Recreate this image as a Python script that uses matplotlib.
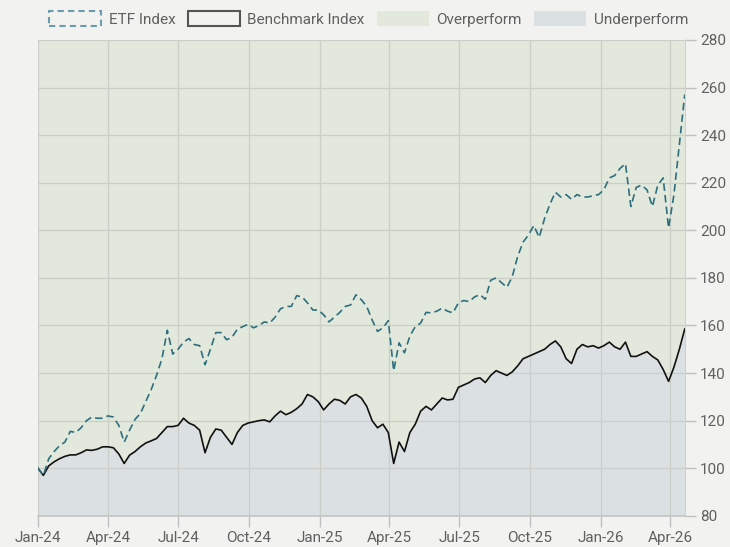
import matplotlib

matplotlib.use("Agg")

import matplotlib.dates as mdates
import matplotlib.pyplot as plt
import pandas as pd
from matplotlib.patches import Patch


# weekly closes (Mondays), Jan-2024 to Apr-2026
dates = pd.date_range("2024-01-01", "2026-04-20", freq="W-MON")

etf = [
    100, 97, 104, 107, 109.5,
    111, 115.5, 115, 117,
    120, 121.5, 121, 121,
    122, 121.5, 118, 111, 116,
    120.5, 123, 128, 133,
    139, 146, 158, 148,
    150, 153, 154.5, 152, 151.5,
    143.5, 150, 157, 157,
    154, 155, 158.5, 159.5, 160.5,
    159, 160, 161.5, 161,
    163.5, 167, 168, 168,
    172.5, 172, 169.5, 166.5, 166.5,
    164.5, 161.5, 163.5, 165.5,
    168, 168.6, 172.9, 170.8,
    168, 162.3, 157.5, 159, 162,
    141, 152.7, 148.5, 155.5,
    159.5, 161, 165.5, 165.3,
    166, 167.3, 166, 165.3, 169.5,
    170.5, 170, 172, 173,
    171, 179, 180, 178,
    176, 180.5, 189, 195, 198,
    202, 197, 205, 211,
    216, 214, 215, 213,
    215, 214, 214, 214.5, 215,
    217, 222, 223, 226,
    228, 210, 218, 219,
    217, 210, 219, 222, 201,
    215, 236, 257,
]

benchmark = [
    100, 97, 101, 102.7, 104,
    105, 105.6, 105.6, 106.5,
    107.7, 107.5, 108, 109,
    109, 108.6, 106, 102, 105.5,
    107, 109, 110.6, 111.5,
    112.5, 115, 117.5, 117.5,
    118, 121, 119, 118, 116,
    106.5, 113, 116.5, 116,
    113, 110, 115, 118, 119,
    119.5, 120, 120.3, 119.5,
    122, 124, 122.5, 123.5,
    125, 127, 131, 130, 128,
    124.5, 127, 129, 128.5,
    127, 130, 131, 129.5,
    126, 120, 117, 118.5, 115,
    102, 111, 107, 115,
    118.5, 124, 126, 124.5,
    127, 129.5, 128.7, 129, 134,
    135, 136, 137.5, 138,
    136, 139, 141, 140,
    139, 140.5, 143, 146, 147,
    148, 149, 150, 152,
    153.5, 151, 146, 144,
    150, 152, 151, 151.5, 150.5,
    151.5, 153, 151, 150,
    153, 147, 147, 148,
    149, 147, 145.5, 141.5, 136.5,
    142.5, 150, 158.5,
]

y_ticks = list(range(80, 281, 20))
legend_labels = ["ETF Index", "Benchmark Index", "Overperform", "Underperform"]

BG = "#f2f2f0"
OVER = "#e2e8dc"
UNDER = "#dbe1e3"
ETF_COLOR = "#2e6f7e"
GRID = "#cbcfc7"
TEXT = "#606060"

plt.rcParams["font.family"] = ["Roboto", "DejaVu Sans"]

fig = plt.figure(figsize=(7.3, 5.47), dpi=100, facecolor=BG)
ax = fig.add_axes([0.052, 0.057, 0.886, 0.870])
ax.set_facecolor(OVER)

ax.fill_between(dates, 80, benchmark, color=UNDER, linewidth=0, zorder=1)
ax.plot(dates, benchmark, color="#111111", linewidth=1.2, zorder=3)
ax.plot(dates, etf, color=ETF_COLOR, linewidth=1.2, dashes=(4.5, 2.5), zorder=3)

ax.set_xlim(dates[0], dates[-1])
ax.set_ylim(80, 280)
ax.set_yticks(y_ticks)
ax.yaxis.tick_right()

ax.xaxis.set_major_locator(mdates.MonthLocator(bymonth=[1, 4, 7, 10]))
ax.xaxis.set_major_formatter(mdates.DateFormatter("%b-%y"))

ax.grid(True, color=GRID, linewidth=0.9)
for line in ax.get_xgridlines() + ax.get_ygridlines():
    line.set_zorder(2)

ax.tick_params(axis="both", colors="#c0c0c0", labelcolor=TEXT, labelsize=11, length=8, width=1)
ax.tick_params(axis="y", pad=3)
ax.tick_params(axis="x", pad=3)

for side in ["top", "left"]:
    ax.spines[side].set_visible(False)
ax.spines["bottom"].set_color("#c4c4c4")
ax.spines["bottom"].set_linewidth(1.2)
ax.spines["right"].set_color("#d0d0d0")

handles = [
    Patch(facecolor="none", edgecolor="#6b9cae", linestyle=(0, (3, 2)), linewidth=1.5),
    Patch(facecolor="none", edgecolor="#555555", linewidth=1.5),
    Patch(facecolor=OVER, edgecolor="none"),
    Patch(facecolor=UNDER, edgecolor="none"),
]
fig.legend(
    handles,
    legend_labels,
    loc="center",
    bbox_to_anchor=(0.505, 0.965),
    ncol=4,
    frameon=False,
    fontsize=11,
    labelcolor=TEXT,
    handlelength=3.4,
    handleheight=1.1,
    handletextpad=0.5,
    columnspacing=0.8,
)

fig.savefig("out.png", dpi=100, facecolor=BG)
